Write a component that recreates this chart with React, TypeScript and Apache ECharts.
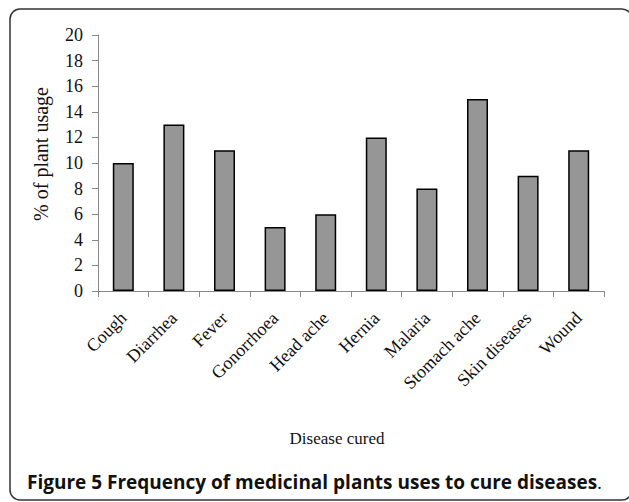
import React, { useEffect, useRef } from "react";
import * as echarts from "echarts";

const categories = ["Cough", "Diarrhea", "Fever", "Gonorrhoea", "Head ache", "Hernia", "Malaria", "Stomach ache", "Skin diseases", "Wound"];
const usage = [10, 13, 11, 5, 6, 12, 8, 15, 9, 11];
const yTicks = { min: 0, max: 20, interval: 2 };
const yTitle = "% of plant usage";
const xTitle = "Disease cured";
const captionBold = "Figure 5 Frequency of medicinal plants uses to cure diseases";

export default function App() {
  const ref = useRef<HTMLDivElement>(null);
  useEffect(() => {
    if (!ref.current) return;
    const chart = echarts.init(ref.current, null, { renderer: "svg" });
    const serif = "Liberation Serif";
    chart.setOption({
      animation: false,
      backgroundColor: "#fff",
      grid: { left: 98, right: 25, top: 35, bottom: 211, containLabel: false },
      xAxis: {
        type: "category",
        data: categories,
        boundaryGap: true,
        axisLine: { lineStyle: { color: "#888", width: 1 } },
        axisTick: { show: true, length: 6, lineStyle: { color: "#888" } },
        axisLabel: { rotate: 45, margin: 24, color: "#111", fontFamily: serif, fontSize: 18, interval: 0 },
      },
      yAxis: {
        type: "value",
        min: yTicks.min,
        max: yTicks.max,
        interval: yTicks.interval,
        splitLine: { show: false },
        axisLine: { show: true, lineStyle: { color: "#888", width: 1 } },
        axisTick: { show: true, length: 6, lineStyle: { color: "#888" } },
        axisLabel: { margin: 15, color: "#111", fontFamily: serif, fontSize: 18 },
        name: yTitle,
        nameLocation: "middle",
        nameRotate: 90,
        nameGap: 47,
        nameTextStyle: { color: "#111", fontFamily: serif, fontSize: 20, padding: [0, 0, 0, 18] },
      },
      series: [
        {
          type: "bar",
          data: usage,
          barWidth: 21,
          itemStyle: { color: "#969696", borderColor: "#000", borderWidth: 1.5 },
        },
      ],
      graphic: [
        {
          type: "rect",
          shape: { x: 10, y: 9, width: 622, height: 491, r: 10 },
          style: { fill: "none", stroke: "#333", lineWidth: 1.5 },
          silent: true,
        },
        {
          type: "text",
          x: 337,
          y: 438,
          style: { text: xTitle, fill: "#111", font: "17px " + serif, align: "center", verticalAlign: "middle" },
        },
        {
          type: "text",
          x: 27,
          y: 482,
          style: {
            text: "{b|" + captionBold + "}{r|.}",
            verticalAlign: "middle",
            align: "left",
            rich: {
              b: { fontFamily: "Open Sans", fontWeight: "bold", fontSize: 19, fill: "#111" },
              r: { fontFamily: "Open Sans", fontWeight: "normal", fontSize: 19, fill: "#111" },
            },
          },
        },
      ],
    });
    return () => chart.dispose();
  }, []);
  return <div ref={ref} style={{ position: "fixed", left: 0, top: 0, width: 629, height: 502 }} />;
}
